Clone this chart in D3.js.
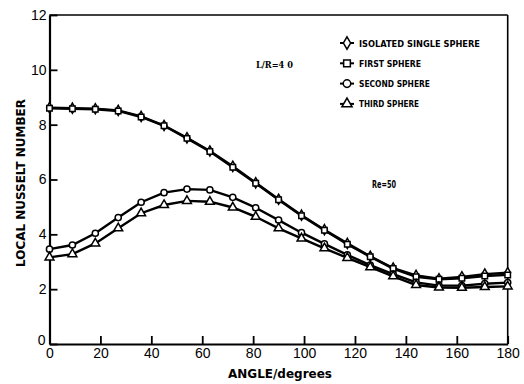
<!DOCTYPE html>
<html><head><meta charset="utf-8">
<script src="https://cdn.jsdelivr.net/npm/d3@7"></script>
<style>body{margin:0;background:#fff}svg{display:block}</style>
</head><body>
<svg id="c" width="524" height="384"></svg>
<script>
const angles = [0,9,18,27,36,45,54,63,72,81,90,99,108,117,126,135,144,153,162,171,180];
const isolated = [8.62,8.6,8.58,8.52,8.3,7.97,7.52,7.04,6.48,5.88,5.28,4.7,4.17,3.67,3.2,2.77,2.5,2.38,2.45,2.55,2.6];
const first = [8.6,8.58,8.56,8.5,8.28,7.96,7.5,7.02,6.45,5.86,5.26,4.68,4.15,3.64,3.18,2.75,2.45,2.36,2.4,2.48,2.52];
const second = [3.46,3.61,4.04,4.61,5.17,5.52,5.65,5.62,5.35,4.97,4.52,4.06,3.65,3.25,2.88,2.55,2.25,2.13,2.13,2.2,2.24];
const third = [3.16,3.28,3.67,4.22,4.77,5.07,5.22,5.19,4.98,4.64,4.22,3.85,3.49,3.14,2.8,2.47,2.15,2.06,2.05,2.08,2.1];
const seriesNames = ["ISOLATED SINGLE SPHERE","FIRST SPHERE","SECOND SPHERE","THIRD SPHERE"];
const xTicks = [0,20,40,60,80,100,120,140,160,180];
const yTicks = [0,2,4,6,8,10,12];

const series = [
  {name:seriesNames[0], vals:isolated, sym:d3.symbolDiamond},
  {name:seriesNames[1], vals:first, sym:d3.symbolSquare},
  {name:seriesNames[2], vals:second, sym:d3.symbolCircle},
  {name:seriesNames[3], vals:third, sym:d3.symbolTriangle}
];

const svg = d3.select("#c");
const x = d3.scaleLinear().domain([0,180]).range([49.5,507.7]);
const y = d3.scaleLinear().domain([0,12]).range([344,15]);

// frame top/right
svg.append("line").attr("x1",x(0)).attr("x2",x(180)).attr("y1",y(12)).attr("y2",y(12)).attr("stroke","#000").attr("stroke-width",1.6);
svg.append("line").attr("x1",x(180)).attr("x2",x(180)).attr("y1",y(12)).attr("y2",y(0)).attr("stroke","#000").attr("stroke-width",1.6);

const fontTick = "'Liberation Sans', Arial, sans-serif";
const xAxis = svg.append("g").attr("transform",`translate(0,${y(0)})`)
  .call(d3.axisBottom(x).tickValues(xTicks).tickSizeInner(-8).tickSizeOuter(0).tickPadding(4));
const yAxis = svg.append("g").attr("transform",`translate(${x(0)},0)`)
  .call(d3.axisLeft(y).tickValues(yTicks).tickSizeInner(-8).tickSizeOuter(0).tickPadding(3));
[xAxis,yAxis].forEach(g=>{
  g.select(".domain").attr("stroke","#000").attr("stroke-width",2.2);
  g.selectAll(".tick line").attr("stroke","#000").attr("stroke-width",1.8);
  g.selectAll(".tick text").attr("fill","#000").style("font-family",fontTick).style("font-size","14px");
});
yAxis.selectAll(".tick text").filter(d=>d===0).attr("dy","0.05em").attr("dx","-1");

const line = d3.line().x((d,i)=>x(angles[i])).y(d=>y(d));
series.forEach(s=>{
  svg.append("path").datum(s.vals).attr("d",line).attr("fill","none").attr("stroke","#000").attr("stroke-width",2.4);
});
series.forEach(s=>{
  const sym = d3.symbol().type(s.sym).size(s.sym===d3.symbolTriangle?34:30);
  svg.append("g").selectAll("path").data(s.vals).join("path")
    .attr("transform",(d,i)=>`translate(${x(angles[i])},${y(d)})`)
    .attr("d",sym).attr("fill","#fff").attr("stroke","#000").attr("stroke-width",1.5);
});

// legend
const lg = svg.append("g");
series.forEach((s,i)=>{
  const yy = 43 + i*20.3;
  lg.append("line").attr("x1",340).attr("x2",354).attr("y1",yy).attr("y2",yy).attr("stroke","#000").attr("stroke-width",2);
  lg.append("path").attr("transform",`translate(347,${yy})`).attr("d",d3.symbol().type(s.sym).size(45)())
    .attr("fill","#fff").attr("stroke","#000").attr("stroke-width",1.5);
  const t = lg.append("text").attr("x",359).attr("y",yy+3.5).text(s.name)
    .style("font-family","'DejaVu Sans Condensed','DejaVu Sans',sans-serif").style("font-weight","bold").style("font-size","9px");
  const lens = [121,62,71,60];
  t.attr("textLength",lens[i]).attr("lengthAdjust","spacingAndGlyphs");
});

svg.append("text").attr("x",256).attr("y",68).text("L/R=4 0")
  .style("font-family","'DejaVu Serif',serif").style("font-weight","bold").style("font-size","10px")
  .attr("textLength",37).attr("lengthAdjust","spacingAndGlyphs");
svg.append("text").attr("x",372).attr("y",188).text("Re=50")
  .style("font-family","'DejaVu Sans Condensed',sans-serif").style("font-weight","bold").style("font-size","10px")
  .attr("textLength",24).attr("lengthAdjust","spacingAndGlyphs");

// axis titles
svg.append("text").attr("x",280).attr("y",378).attr("text-anchor","middle").text("ANGLE/degrees")
  .style("font-family","'DejaVu Sans',sans-serif").style("font-weight","bold").style("font-size","12.5px")
  .attr("textLength",104).attr("lengthAdjust","spacingAndGlyphs");
svg.append("text").attr("transform","translate(25,183) rotate(-90)").attr("text-anchor","middle").text("LOCAL NUSSELT NUMBER")
  .style("font-family","'DejaVu Sans',sans-serif").style("font-weight","bold").style("font-size","12.5px")
  .attr("textLength",168).attr("lengthAdjust","spacingAndGlyphs");
</script>
</body></html>
